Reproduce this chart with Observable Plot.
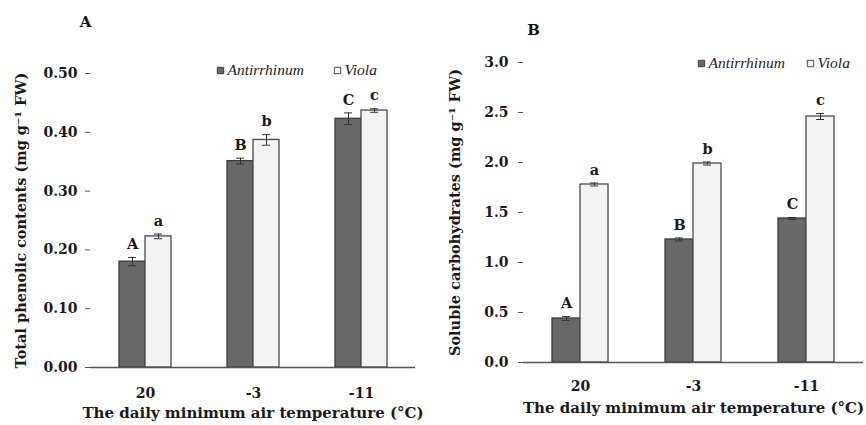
<!DOCTYPE html>
<html>
<head>
<meta charset="utf-8">
<script src="https://cdn.jsdelivr.net/npm/d3@7"></script>
<script src="https://cdn.jsdelivr.net/npm/@observablehq/plot@0.6"></script>
<style>
  html, body { margin: 0; padding: 0; background: #fff; }
  #wrap { position: relative; width: 866px; height: 425px; }
  #wrap > div, #wrap > svg { position: absolute; top: 0; }
</style>
</head>
<body>
<div id="wrap"></div>
<script>
// ---- data ----
const temps = ["20", "-3", "-11"];
const species = ["Antirrhinum", "Viola"];

const phenolAnt = [0.180, 0.351, 0.423];
const phenolAntErr = [0.007, 0.005, 0.010];
const phenolVio = [0.223, 0.387, 0.437];
const phenolVioErr = [0.004, 0.009, 0.003];
const phenolLettersAnt = ["A", "B", "C"];
const phenolLettersVio = ["a", "b", "c"];

const carbAnt = [0.44, 1.23, 1.44];
const carbAntErr = [0.02, 0.015, 0.01];
const carbVio = [1.78, 1.99, 2.46];
const carbVioErr = [0.015, 0.015, 0.03];
const carbLettersAnt = ["A", "B", "C"];
const carbLettersVio = ["a", "b", "c"];

const phenolTicks = [0, 0.1, 0.2, 0.3, 0.4, 0.5];
const carbTicks = [0, 0.5, 1.0, 1.5, 2.0, 2.5, 3.0];

function rows(ant, antErr, vio, vioErr, lAnt, lVio) {
  const out = [];
  temps.forEach((t, i) => {
    out.push({temp: t, species: species[0], value: ant[i], err: antErr[i], letter: lAnt[i]});
    out.push({temp: t, species: species[1], value: vio[i], err: vioErr[i], letter: lVio[i]});
  });
  return out;
}

const FONT = "'DejaVu Serif', 'Liberation Serif', serif";
const ITALIC_FONT = "'Liberation Serif', 'Times New Roman', serif";
const fills = {Antirrhinum: "#686868", Viola: "#f3f3f3"};
const strokes = {Antirrhinum: "#3c3c3c", Viola: "#4a4a4a"};

function panel(cfg) {
  const data = rows(...cfg.series);
  const half = cfg.bandwidth / 2;
  const marks = [];
  species.forEach((sp, k) => {
    const d = data.filter(r => r.species === sp);
    const off = k === 0 ? -half / 2 : half / 2;
    marks.push(Plot.barY(d, {
      x: "temp", y: "value",
      fill: fills[sp], stroke: strokes[sp], strokeWidth: 1.3,
      insetLeft: k === 0 ? 0 : half, insetRight: k === 0 ? half : 0
    }));
    marks.push(Plot.ruleX(d, {x: "temp", y1: r => r.value - r.err, y2: r => r.value + r.err, dx: off, stroke: "#333", strokeWidth: 1}));
    marks.push(Plot.tickY(d, {x: "temp", y: r => r.value + r.err, dx: off, insetLeft: half - 4, insetRight: half - 4, stroke: "#333", strokeWidth: 1}));
    marks.push(Plot.tickY(d, {x: "temp", y: r => r.value - r.err, dx: off, insetLeft: half - 4, insetRight: half - 4, stroke: "#333", strokeWidth: 1}));
    marks.push(Plot.text(d, {x: "temp", y: r => r.value + r.err, text: "letter", dx: off, dy: -13,
      fontSize: 14.5, fontWeight: "bold", fill: "#1a1a1a", fontFamily: FONT}));
    // legend entries
    marks.push(Plot.dot([sp], {frameAnchor: "top-left", dx: cfg.legend[k], dy: cfg.legendDy,
      symbol: "square", r: 3.6, fill: fills[sp], stroke: strokes[sp], strokeWidth: 1}));
    marks.push(Plot.text([sp], {frameAnchor: "top-left", text: d => d, dx: cfg.legend[k] + 7, dy: cfg.legendDy,
      textAnchor: "start", lineAnchor: "middle", fontSize: 15.5, fontStyle: "italic", fill: "#222", fontFamily: ITALIC_FONT}));
  });
  marks.push(Plot.ruleY([0], {stroke: "#555", strokeWidth: 1.3}));
  marks.push(Plot.axisY({ticks: cfg.ticks, tickFormat: cfg.fmt, tickSize: 5, tickPadding: cfg.tickPad,
    fontSize: 14, fontWeight: "bold", fontFamily: FONT, label: null, line: true, stroke: "#555", color: "#1a1a1a"}));
  marks.push(Plot.axisX({tickSize: 0, tickPadding: cfg.xPad, fontSize: 14, fontWeight: "bold", fontFamily: FONT, label: null}));
  marks.push(Plot.text([cfg.ytitle], {frameAnchor: "left", text: d => d, rotate: -90, dx: cfg.ytDx,
    textAnchor: "middle", lineAnchor: "middle", fontSize: 14.5, fontWeight: "bold", fill: "#1a1a1a", fontFamily: FONT}));
  marks.push(Plot.text([cfg.xtitle], {frameAnchor: "bottom", text: d => d, dy: cfg.xtDy,
    textAnchor: "middle", lineAnchor: "middle", fontSize: 15, fontWeight: "bold", fill: "#1a1a1a", fontFamily: FONT}));
  marks.push(Plot.text([cfg.tag], {frameAnchor: "top-left", text: d => d, dx: cfg.tagDx, dy: cfg.tagDy,
    textAnchor: "middle", lineAnchor: "middle", fontSize: 15, fontWeight: "bold", fill: "#111", fontFamily: FONT}));

  return Plot.plot({
    width: 433, height: 425,
    marginLeft: cfg.m[3], marginRight: cfg.m[1], marginTop: cfg.m[0], marginBottom: cfg.m[2],
    style: {fontFamily: FONT, color: "#1a1a1a", background: "transparent", overflow: "visible"},
    x: {domain: temps, paddingInner: cfg.pi, paddingOuter: cfg.pi / 2},
    y: {domain: cfg.domain},
    marks
  });
}

const xtitle = "The daily minimum air temperature (\u00B0C)";

const A = panel({
  series: [phenolAnt, phenolAntErr, phenolVio, phenolVioErr, phenolLettersAnt, phenolLettersVio],
  m: [73, 18, 58, 90], pi: 0.52, bandwidth: 52, domain: [0, 0.5], ticks: phenolTicks, fmt: ".2f",
  tickPad: 8, xPad: 21, legend: [130, 247], legendDy: -3,
  ytitle: "Total phenolic contents (mg g\u207B\u00B9 FW)", ytDx: -69,
  xtitle, xtDy: 46, tag: "A", tagDx: -5, tagDy: -51
});
const B = panel({
  series: [carbAnt, carbAntErr, carbVio, carbVioErr, carbLettersAnt, carbLettersVio],
  m: [62, 3, 63, 90], pi: 0.506, bandwidth: 56, domain: [0, 3], ticks: carbTicks, fmt: ".1f",
  tickPad: 10, xPad: 19, legend: [178, 287], legendDy: 1,
  ytitle: "Soluble carbohydrates (mg g\u207B\u00B9 FW)", ytDx: -68,
  xtitle, xtDy: 46, tag: "B", tagDx: 10, tagDy: -32
});
A.style.left = "0px";
B.style.left = "433px";
const wrap = document.getElementById("wrap");
wrap.appendChild(A);
wrap.appendChild(B);
</script>
</body>
</html>
